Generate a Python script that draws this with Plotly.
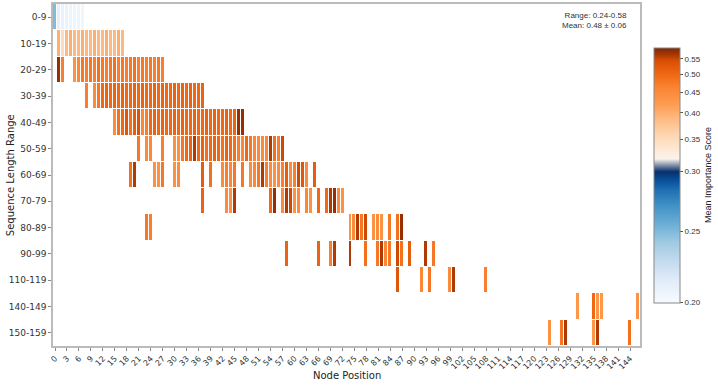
import numpy as np
import plotly.graph_objects as go

# Sequence length buckets (rows, top to bottom)
row_labels = ['0-9', '10-19', '20-29', '30-39', '40-49', '50-59', '60-69',
              '70-79', '80-89', '90-99', '110-119', '140-149', '150-159']
n_nodes = 147

# node positions + mean importance per bucket
pos_0_9 = list(range(0, 8))
val_0_9 = [0.25, 0.212, 0.210, 0.209, 0.208, 0.207, 0.207, 0.206]

pos_10_19 = list(range(1, 18))
val_10_19 = [0.40, 0.35, 0.39, 0.40, 0.39, 0.39, 0.40, 0.39, 0.39, 0.40,
             0.39, 0.39, 0.40, 0.39, 0.39, 0.40, 0.39]

pos_20_29 = [1, 2] + list(range(5, 28))
val_20_29 = [0.57, 0.47,
             0.44, 0.46, 0.48, 0.47, 0.48, 0.47, 0.49, 0.48, 0.47, 0.48,
             0.49, 0.47, 0.48, 0.47, 0.48, 0.49, 0.47, 0.48, 0.47, 0.48,
             0.47, 0.48, 0.47]

pos_30_39 = [8] + list(range(10, 38))
val_30_39 = [0.47, 0.45, 0.48,
             0.50, 0.51, 0.50, 0.51, 0.50, 0.51, 0.50, 0.50, 0.51, 0.50,
             0.51, 0.50, 0.50, 0.51, 0.50, 0.51, 0.50, 0.50, 0.51, 0.50,
             0.51, 0.50, 0.51, 0.50, 0.50, 0.51]

pos_40_49 = list(range(15, 48))
val_40_49 = [0.45, 0.49, 0.50, 0.53, 0.49, 0.52, 0.54, 0.46, 0.47, 0.50,
             0.51, 0.50, 0.51, 0.50, 0.50, 0.51, 0.50, 0.51, 0.50, 0.50,
             0.51, 0.50, 0.50, 0.51, 0.50, 0.51, 0.50, 0.50, 0.51, 0.50,
             0.51, 0.57, 0.57]

pos_50_59 = [21, 23, 24, 27] + list(range(30, 58))
val_50_59 = [0.48, 0.45, 0.46, 0.47,
             0.44, 0.44, 0.48, 0.50, 0.51, 0.56, 0.50, 0.51, 0.49, 0.50,
             0.51, 0.50, 0.49, 0.51, 0.50, 0.49, 0.47, 0.46, 0.50, 0.48,
             0.46, 0.45, 0.45, 0.46, 0.56, 0.49, 0.47, 0.55]

pos_60_69 = [19, 20, 25, 26, 27, 30, 31, 37, 39, 42, 43, 44, 45, 47] + list(range(49, 64)) + [65]
val_60_69 = [0.49, 0.56, 0.44, 0.44, 0.48, 0.44, 0.45, 0.52, 0.49, 0.45,
             0.47, 0.46, 0.48, 0.48,
             0.45, 0.46, 0.48, 0.56, 0.47, 0.45, 0.44, 0.45, 0.47, 0.52,
             0.45, 0.47, 0.55, 0.53, 0.45,
             0.52]

pos_70_79 = [37, 43, 44, 45, 54, 55, 57, 58, 59, 60, 61, 63, 64, 66, 68, 69, 70, 71, 72]
val_70_79 = [0.51, 0.45, 0.44, 0.56, 0.50, 0.57, 0.45, 0.56, 0.55, 0.44,
             0.45, 0.46, 0.44, 0.50, 0.50, 0.56, 0.57, 0.45, 0.44]

pos_80_89 = [23, 24, 74, 75, 76, 77, 78, 80, 81, 82, 84, 86, 87]
val_80_89 = [0.48, 0.47, 0.44, 0.45, 0.56, 0.48, 0.55, 0.44, 0.45, 0.44,
             0.48, 0.49, 0.57]

pos_90_99 = [58, 66, 69, 70, 74, 78, 81, 82, 83, 84, 86, 87, 89, 93, 95]
val_90_99 = [0.51, 0.51, 0.47, 0.56, 0.56, 0.49, 0.48, 0.56, 0.46, 0.48,
             0.55, 0.49, 0.52, 0.56, 0.48]

pos_110_119 = [86, 92, 94, 99, 100, 108]
val_110_119 = [0.53, 0.46, 0.48, 0.45, 0.56, 0.47]

pos_140_149 = [131, 135, 136, 137, 146]
val_140_149 = [0.43, 0.50, 0.43, 0.43, 0.44]

pos_150_159 = [124, 127, 128, 135, 136, 144]
val_150_159 = [0.44, 0.48, 0.56, 0.43, 0.56, 0.49]

rows = [(pos_0_9, val_0_9), (pos_10_19, val_10_19), (pos_20_29, val_20_29),
        (pos_30_39, val_30_39), (pos_40_49, val_40_49), (pos_50_59, val_50_59),
        (pos_60_69, val_60_69), (pos_70_79, val_70_79), (pos_80_89, val_80_89),
        (pos_90_99, val_90_99), (pos_110_119, val_110_119),
        (pos_140_149, val_140_149), (pos_150_159, val_150_159)]

# non-linear colour norm (value -> position on colorbar)
norm_values = [0.20, 0.25, 0.30, 0.35, 0.40, 0.45, 0.50, 0.55, 0.58]
norm_fracs = [0.0, 0.28, 0.514, 0.64, 0.744, 0.823, 0.896, 0.956, 1.0]
cbar_labels = ['0.20', '0.25', '0.30', '0.35', '0.40', '0.45', '0.50', '0.55']

z = np.full((len(row_labels), n_nodes), np.nan)
for i, (pos, val) in enumerate(rows):
    z[i, pos] = np.interp(val, norm_values, norm_fracs)

colorscale = [
    [0.0, '#f7fbff'], [0.08, '#e3eef9'], [0.16, '#c6dbef'], [0.24, '#9ecae1'],
    [0.31, '#6baed6'], [0.38, '#4292c6'], [0.44, '#2171b5'], [0.48, '#08519c'],
    [0.515, '#08306b'], [0.54, '#8090a8'], [0.565, '#fbf3ec'], [0.60, '#fee9d6'],
    [0.66, '#fdd6b0'], [0.72, '#fdbb84'], [0.78, '#fd9c50'], [0.84, '#fb8636'],
    [0.90, '#ef6612'], [0.95, '#d94f04'], [0.975, '#a63603'], [1.0, '#7f2704'],
]

fig = go.Figure()
fig.add_trace(go.Heatmap(
    z=z, x=list(range(n_nodes)), y=row_labels,
    zmin=0, zmax=1, colorscale=colorscale,
    xgap=1, ygap=1, hoverongaps=False,
    colorbar=dict(
        x=1.024, xanchor='left', xpad=0, y=0.5, yanchor='middle', ypad=0,
        len=0.746, thickness=26,
        outlinewidth=1, outlinecolor='#888888',
        tickmode='array', tickvals=norm_fracs[:-1], ticktext=cbar_labels,
        ticks='outside', ticklen=3, tickcolor='#555555',
        tickfont=dict(family='Liberation Sans, Arial', size=8, color='#333333'),
        title=dict(text='Mean Importance Score', side='right',
                   font=dict(family='Liberation Sans, Arial', size=9, color='#222222')),
    ),
))

x_ticks = list(range(0, 145, 3))
fig.update_layout(
    width=718, height=385,
    margin=dict(l=53, r=78, t=4, b=39),
    plot_bgcolor='white', paper_bgcolor='white',
    font=dict(family='DejaVu Sans', size=9, color='#333333'),
    xaxis=dict(
        automargin=False,
        range=[-0.5, n_nodes - 0.5],
        tickmode='array', tickvals=x_ticks, ticktext=[str(t) for t in x_ticks],
        tickangle=-45, ticks='outside', ticklen=3, tickcolor='#888888',
        tickfont=dict(size=8),
        showline=True, linecolor='#bbbbbb', linewidth=1.5, mirror=True,
        showgrid=False, zeroline=False,
    ),
    yaxis=dict(
        automargin=False,
        type='category', autorange='reversed',
        ticks='outside', ticklen=3, tickcolor='#888888',
        tickfont=dict(size=9),
        showline=True, linecolor='#bbbbbb', linewidth=1.5, mirror=True,
        showgrid=False, zeroline=False,
    ),
    annotations=[
        dict(text='Range: 0.24-0.58<br>Mean: 0.48 ± 0.06',
             xref='paper', yref='paper', x=0.982, y=0.985,
             xanchor='right', yanchor='top', align='right', showarrow=False,
             font=dict(family='Liberation Sans, Arial', size=8, color='#333333')),
        dict(text='Node Position', xref='paper', yref='paper',
             x=0.5, y=-0.085, xanchor='center', yanchor='middle',
             showarrow=False, font=dict(size=10, color='#222222')),
        dict(text='Sequence Length Range', xref='paper', yref='paper',
             x=-0.073, y=0.5, xanchor='center', yanchor='middle', textangle=-90,
             showarrow=False, font=dict(size=10, color='#222222')),
    ],
)

# drop the default 8px page margin so the figure sits at the window origin
fig.write_html("out.html", config={'displayModeBar': False},
               post_script="document.body.style.margin = '0';")
